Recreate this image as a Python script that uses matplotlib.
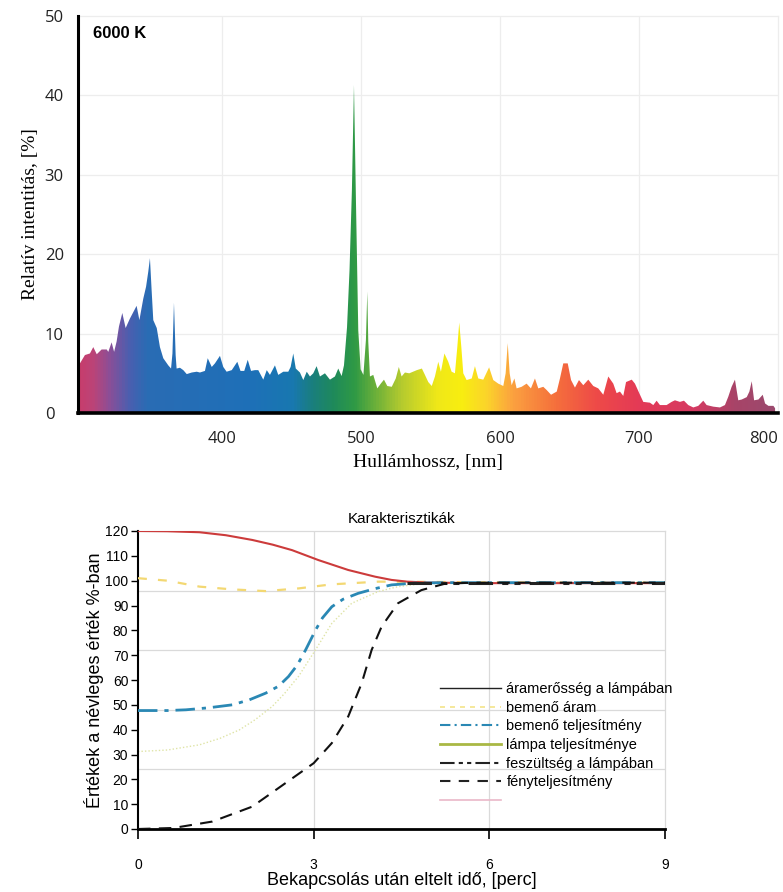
import numpy as np
import matplotlib
matplotlib.use("Agg")
import matplotlib.pyplot as plt
from matplotlib.colors import LinearSegmentedColormap
from matplotlib.lines import Line2D

# ---------------- data: spectrum ----------------
wavelength = [296, 297.4, 301, 304.6, 307, 309.5, 313, 316.7, 317.8, 320.2, 322, 323.8,
              325.5, 327.9, 330.3, 333.4, 335.8, 338.2, 340.2, 343, 345, 346.6, 347.8,
              349, 350.2, 352.7, 355, 357.4, 361, 363, 364, 365.1, 366.3, 367, 369.4,
              371.8, 374.3, 377.9, 381.5, 383.8, 387.4, 389.4, 392.3, 394.6, 398.2,
              400.6, 403, 406.7, 410.7, 413, 415.7, 418.2, 420.6, 423.4, 425.8, 429.4,
              431.9, 434.2, 437.8, 440.2, 443.8, 447.4, 449.1, 451, 452.8, 455.8, 458.2,
              460.7, 463, 465.4, 467.8, 470.2, 473.8, 477.4, 481, 483.4, 485.8, 487.5,
              489.7, 491.5, 493.2, 494.7, 496.2, 497.8, 499.5, 501.5, 503.3, 504.3, 505,
              506.2, 508.6, 511.5, 514, 516.3, 518.7, 521.9, 524.8, 527, 529, 531.4,
              534.5, 540, 543.6, 545.8, 548.2, 550.7, 553, 555.4, 557.3, 559.8, 562.6,
              565, 567.4, 569.1, 570.5, 572, 573.4, 575.8, 579.5, 581.8, 584.2, 587.8,
              592, 595, 598.6, 602.2, 603.9, 605.4, 606.8, 608.2, 610.2, 611.8, 615.4,
              619, 622.1, 625, 627.4, 631, 633.4, 636.6, 640.7, 643, 645.4, 648.6, 651,
              653.8, 656.7, 659.8, 663.4, 667, 670.6, 674.2, 677.8, 681.4, 683.8, 686.2,
              688.6, 690.6, 694.7, 697, 700.1, 703, 707.8, 710.2, 712.6, 715, 719.8,
              723.4, 725.8, 729.4, 732.3, 735.4, 739, 742.6, 746.2, 748.6, 753.4, 758.2,
              761.8, 764.2, 766.6, 769, 771.4, 773.9, 777.5, 779.4, 781.1, 782.8, 785.9,
              789, 790.7, 793.1, 796.7, 797.9]
intensity = [6.0, 6.25, 7.3, 7.5, 8.3, 7.4, 8.0, 8.0, 7.7, 8.9, 7.7, 9.0,
             10.9, 12.6, 10.7, 11.9, 12.7, 13.5, 11.7, 14.4, 15.9, 17.8, 19.5,
             15.5, 11.7, 10.7, 8.3, 6.9, 6.0, 5.6, 7.5, 13.9, 7.3, 5.6, 5.7,
             5.4, 4.9, 5.1, 5.2, 5.1, 5.3, 6.9, 5.8, 6.25, 7.2,
             5.8, 5.2, 5.4, 6.45, 5.3, 5.3, 6.7, 5.3, 5.4, 5.4, 4.2,
             5.4, 4.8, 6.0, 4.8, 5.2, 5.2, 5.8, 7.5, 5.6, 5.1, 4.15,
             5.2, 4.6, 5.0, 5.9, 4.6, 5.0, 4.2, 4.6, 5.6, 4.65, 6.0,
             10.8, 18.0, 28.0, 41.3, 26.0, 10.4, 5.5, 4.8, 9.2, 15.3, 9.0,
             4.6, 4.8, 3.1, 3.7, 4.2, 3.4, 3.3, 4.35, 5.8, 4.6, 5.1,
             5.0, 5.4, 5.6, 4.8, 3.9, 3.4, 4.6, 6.45, 5.2, 7.5, 6.45,
             5.2, 5.0, 8.3, 11.4, 8.3, 5.0, 4.15, 4.35, 5.9, 4.35, 4.2,
             5.75, 4.15, 3.7, 3.4, 5.0, 8.8, 5.0, 3.5, 4.35, 3.1, 3.3,
             3.7, 3.1, 4.35, 3.1, 3.3, 2.9, 2.3, 2.7, 4.35, 6.25, 6.25, 4.15,
             3.2, 4.15, 3.5, 4.2, 3.4, 3.1, 2.3, 4.6, 3.7, 2.5, 2.7,
             2.15, 3.9, 4.2, 3.7, 2.5, 1.4, 1.3, 1.0, 1.55, 1.0, 1.0,
             1.4, 1.6, 1.4, 1.55, 1.0, 0.7, 0.9, 1.55, 1.0, 0.8, 0.7,
             1.0, 2.05, 3.3, 4.2, 1.6, 1.7, 2.0, 2.7, 4.0, 1.6, 1.7,
             2.3, 1.2, 0.9, 0.9, 0.6]
spec_xticks = [400, 500, 600, 700, 800]
spec_yticks = [0, 10, 20, 30, 40, 50]

# ---------------- data: characteristics ----------------
t_current = [0, 0.5, 1.05, 1.5, 1.95, 2.3, 2.63, 3.08, 3.59, 4.05, 4.33, 4.6, 5, 6, 7, 8, 9]
lamp_current = [120, 119.9, 119.5, 118.3, 116.4, 114.5, 112.3, 108.3, 104.3, 101.6, 100.3,
                99.6, 99.2, 99, 99, 99, 99]
t_in_current = [0, 0.5, 1.05, 1.6, 2.18, 2.75, 3.3, 4.1, 5, 6, 7, 8, 9]
input_current = [101, 100, 97.6, 96.5, 95.8, 96.9, 98.5, 99.6, 99.5, 99.3, 99.2, 99.2, 99.2]
t_in_power = [0, 0.5, 0.82, 1.2, 1.61, 1.9, 2.18, 2.4, 2.57, 2.72, 2.86, 3.03, 3.15, 3.31,
              3.5, 3.76, 4.05, 4.33, 4.7, 5.2, 6, 7, 8, 9]
input_power = [47.7, 47.7, 48, 48.8, 50, 52, 54.7, 57.5, 61.4, 66, 72, 80, 85, 89.5,
               92.5, 94.9, 96.8, 98.3, 99, 99.2, 99.2, 99.2, 99.2, 99.2]
t_lamp_power = [0, 0.5, 1.05, 1.4, 1.73, 2.0, 2.29, 2.5, 2.74, 3.03, 3.31, 3.65, 4.1, 4.44,
                4.8, 5.3, 6, 7, 8, 9]
lamp_power = [31.2, 31.8, 33.9, 36.5, 39.9, 44, 49.3, 54.5, 61.4, 72.1, 82.8, 90.9, 95.6,
              97.6, 98.6, 99, 99, 99, 99, 99]
t_voltage = [4.6, 5, 6, 7, 8, 9]
lamp_voltage = [99, 99, 99, 99, 99, 99]
t_light = [0, 0.6, 1.27, 1.95, 2.52, 3.0, 3.31, 3.59, 3.82, 3.99, 4.16, 4.44, 4.84, 5.23,
           5.6, 6, 7, 8, 9]
light_output = [0, 0.4, 3, 9, 18.5, 26.5, 34.6, 45.3, 58.7, 72.1, 81.5, 90.9, 96.2, 98.7,
                99.1, 99.2, 99.2, 99.2, 99.2]
legend_labels = ["áramerősség a lámpában", "bemenő áram", "bemenő teljesítmény",
                 "lámpa teljesítménye", "feszültség a lámpában", "fényteljesítmény", ""]
char_xticks = [0, 3, 6, 9]
char_yticks = list(range(0, 121, 10))
char_grid_y = [24, 48, 72, 96]

# ---------------- figure ----------------
W, H = 783, 892
fig = plt.figure(figsize=(W / 100, H / 100), dpi=100)

def frac(x0, y0, x1, y1):
    return [x0 / W, 1 - y1 / H, (x1 - x0) / W, (y1 - y0) / H]

# ---- top: spectrum ----
ax1 = fig.add_axes(frac(78, 16, 778, 413))
ax1.set_xlim(296, 800)
ax1.set_ylim(0, 50)
stops = [(296, '#c83d6c'), (306, '#bb4478'), (318, '#8a4f98'), (332, '#4a5fb0'),
         (345, '#2a6cb4'), (420, '#1e70b8'), (450, '#1878b0'), (465, '#1a7f7c'),
         (480, '#1f8a5a'), (495, '#2f9a45'), (510, '#6cb03a'), (530, '#b8cc2e'),
         (555, '#f0e818'), (572, '#f8ee10'), (590, '#fbd52a'), (610, '#fba040'),
         (640, '#f5703c'), (670, '#ee4a48'), (700, '#e43a56'), (740, '#d63a62'),
         (770, '#a84468'), (800, '#9a4a6e')]
cmap = LinearSegmentedColormap.from_list(
    'spec', [((s - 296) / (800 - 296), c) for s, c in stops])
poly = ax1.fill_between(wavelength, 0, intensity, facecolor='none', edgecolor='none')
grad = np.linspace(296, 800, 1000)[None, :]
im = ax1.imshow(grad, extent=[296, 800, 0, 50], cmap=cmap, vmin=296, vmax=800,
                aspect='auto', origin='lower', zorder=2)
im.set_clip_path(poly.get_paths()[0], transform=ax1.transData)

for v in spec_xticks[:-1]:
    ax1.axvline(v, color='#ededed', lw=0.9, zorder=0)
for v in spec_yticks[1:-1]:
    ax1.axhline(v, color='#ededed', lw=0.9, zorder=0)
ax1.set_xticks(spec_xticks)
ax1.set_yticks(spec_yticks)
ax1.tick_params(axis='both', length=0, labelsize=12, colors='#222222')
ax1.tick_params(axis='x', pad=13)
ax1.tick_params(axis='y', pad=24)
for lab in ax1.get_xticklabels() + ax1.get_yticklabels():
    lab.set_fontfamily('Open Sans')
for lab in ax1.get_yticklabels():
    lab.set_horizontalalignment('left')
ax1.get_xticklabels()[-1].set_horizontalalignment('right')
for s in ['top', 'right']:
    ax1.spines[s].set_color('#ededed')
    ax1.spines[s].set_linewidth(0.9)
ax1.spines['left'].set_linewidth(2.2)
ax1.spines['bottom'].set_linewidth(2.6)
ax1.spines['left'].set_zorder(5)
ax1.spines['bottom'].set_zorder(5)
ax1.set_xlabel('Hullámhossz, [nm]', family='Liberation Serif', fontsize=14, labelpad=5)
ax1.set_ylabel('Relatív intentitás, [%]', family='Liberation Serif', fontsize=14, labelpad=4)
ax1.text(0.022, 0.955, '6000 K', transform=ax1.transAxes, family='Liberation Sans',
         fontweight='bold', fontsize=12, va='center', ha='left')

# ---- bottom: characteristics ----
ax2 = fig.add_axes(frac(138, 531, 665, 829))
ax2.set_xlim(0, 9)
ax2.set_ylim(0, 120)
for v in char_grid_y:
    ax2.axhline(v, color='#dadada', lw=0.9, zorder=0)
for v in char_xticks[1:-1]:
    ax2.axvline(v, color='#dadada', lw=0.9, zorder=0)

ax2.plot(t_lamp_power, lamp_power, color='#dfe4a6', lw=1.0, ls=(0, (1, 1.5)), zorder=2)
ax2.plot(t_in_current, input_current, color='#f3d873', lw=1.6, ls=(0, (4, 5)), zorder=3)
ax2.plot(t_current, lamp_current, color='#cc3b3b', lw=1.5, zorder=3)
ax2.plot(t_in_power, input_power, color='#2a88b4', lw=2.0, ls=(0, (7, 2.5, 1.5, 2.5)), zorder=4)
ax2.plot(t_voltage, lamp_voltage, color='#222222', lw=2.2, ls=(0, (8, 3, 2, 2, 2, 3)), zorder=4)
ax2.plot(t_light, light_output, color='#111111', lw=1.5, ls=(0, (6, 4)), zorder=5)

ax2.set_xticks(char_xticks)
ax2.set_yticks(char_yticks)
ax2.tick_params(axis='y', length=5, width=1, pad=2, labelsize=10)
ax2.tick_params(axis='x', length=7, width=1.2, pad=14, labelsize=10)
for lab in ax2.get_xticklabels() + ax2.get_yticklabels():
    lab.set_fontfamily('Liberation Sans')
for s in ['top', 'right']:
    ax2.spines[s].set_color('#dadada')
    ax2.spines[s].set_linewidth(0.9)
ax2.spines['left'].set_linewidth(1.5)
ax2.spines['bottom'].set_linewidth(2.0)
ax2.set_title('Karakterisztikák', family='Liberation Sans', fontsize=11, pad=6)
ax2.set_xlabel('Bekapcsolás után eltelt idő, [perc]', family='Liberation Sans',
               fontsize=13, labelpad=0)
ax2.set_ylabel('Értékek a névleges érték %-ban', family='Liberation Sans',
               fontsize=13, labelpad=1)

handles = [
    Line2D([], [], color='#222222', lw=1.0),
    Line2D([], [], color='#f3e48a', lw=1.2, ls=(0, (3, 3))),
    Line2D([], [], color='#2a88b4', lw=1.5, ls=(0, (5, 2, 1, 2))),
    Line2D([], [], color='#a9b844', lw=2.0),
    Line2D([], [], color='#222222', lw=1.5, ls=(0, (7, 2, 2, 2, 2, 2))),
    Line2D([], [], color='#222222', lw=1.5, ls=(0, (5, 4))),
    Line2D([], [], color='#eab8c8', lw=1.2),
]
leg = ax2.legend(handles, legend_labels, loc='upper left',
                 bbox_to_anchor=((440 - 138) / 527, (829 - 682) / 298),
                 frameon=False, handlelength=4.2, handletextpad=0.35,
                 labelspacing=0.32, borderaxespad=0, borderpad=0,
                 prop={'family': 'Liberation Sans', 'size': 10.5})

fig.savefig('out.png', dpi=100)
